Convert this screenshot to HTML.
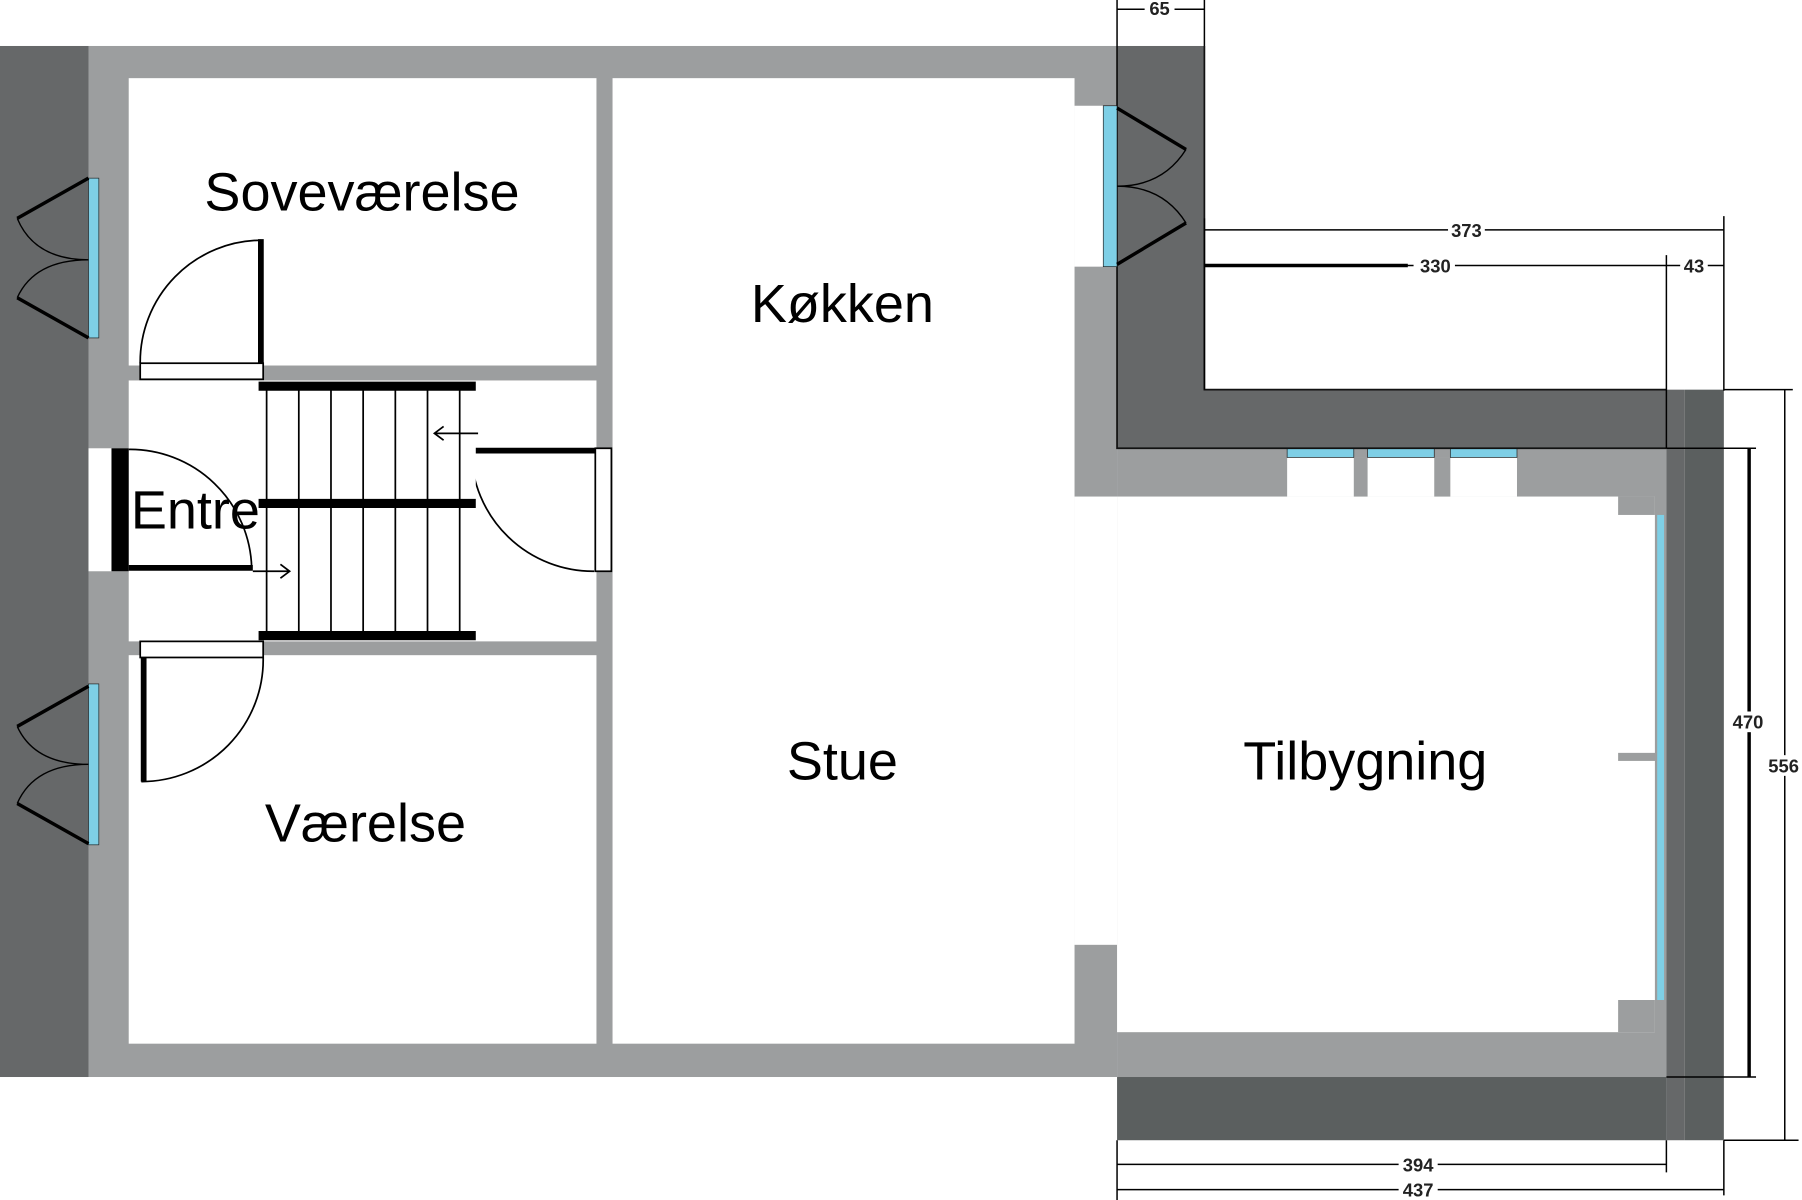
<!DOCTYPE html>
<html><head><meta charset="utf-8"><style>html,body{margin:0;padding:0;background:#fff}svg{display:block}</style></head><body>
<svg width="1802" height="1200" viewBox="0 0 1568 1044" preserveAspectRatio="none" xmlns="http://www.w3.org/2000/svg" font-family="Liberation Sans, sans-serif">
<rect width="1568" height="1044" fill="#fff"/>
<!-- main grey -->
<rect x="77" y="40" width="895" height="897" fill="#9c9e9f"/>
<rect x="0" y="40" width="77" height="897" fill="#666869"/>
<!-- rooms -->
<rect x="112" y="68" width="407" height="250" fill="#fff"/>
<rect x="112" y="331" width="407" height="227" fill="#fff"/>
<rect x="112" y="570" width="407" height="338" fill="#fff"/>
<rect x="533" y="68" width="402" height="840" fill="#fff"/>
<rect x="935" y="92" width="37" height="140" fill="#fff"/>
<rect x="935" y="432" width="37" height="390" fill="#fff"/>
<!-- extension -->
<rect x="972" y="390" width="478" height="547" fill="#9c9e9f"/>
<rect x="972" y="432" width="468" height="466" fill="#fff"/>
<rect x="1408" y="432" width="32" height="16" fill="#9c9e9f"/>
<rect x="1408" y="870" width="32" height="28" fill="#9c9e9f"/>
<rect x="1408" y="655" width="34" height="7" fill="#9c9e9f"/>
<rect x="1120" y="398" width="200" height="34" fill="#fff"/>
<rect x="1178" y="398" width="12" height="34" fill="#9c9e9f"/>
<rect x="1248" y="398" width="14" height="34" fill="#9c9e9f"/>
<rect x="1120" y="390" width="58" height="8" fill="#7ecfe6" stroke="#222" stroke-width="0.6"/>
<rect x="1190" y="390" width="58" height="8" fill="#7ecfe6" stroke="#222" stroke-width="0.6"/>
<rect x="1262" y="390" width="58" height="8" fill="#7ecfe6" stroke="#222" stroke-width="0.6"/>
<rect x="1442" y="448" width="6" height="422" fill="#7ecfe6"/>
<!-- dark walls -->
<rect x="972" y="40" width="76" height="350" fill="#666869"/>
<rect x="972" y="339" width="478" height="51" fill="#666869"/>
<rect x="1450" y="339" width="16" height="653" fill="#666869"/>
<rect x="1466" y="339" width="34" height="653" fill="#5b5f5f"/>
<rect x="972" y="937" width="478" height="55" fill="#5b5f5f"/>
<path d="M972 40 V390 H1450 M1048 40 V339 H1450" stroke="#111" stroke-width="1.5" fill="none"/>
<!-- windows -->
<rect x="960" y="92" width="12" height="140" fill="#7ecfe6" stroke="#222" stroke-width="0.6"/>
<rect x="77" y="155" width="9" height="139" fill="#7ecfe6" stroke="#222" stroke-width="0.6"/>
<rect x="77" y="595" width="9" height="140" fill="#7ecfe6" stroke="#222" stroke-width="0.6"/>
<g stroke="#000" fill="none" stroke-width="3">
<path d="M77 155 L15 190 M77 294 L15 259"/>
<path d="M972 94 L1032 130 M972 230 L1032 194"/>
<path d="M77 597 L15 632 M77 734 L15 699"/>
</g>
<g stroke="#000" fill="none" stroke-width="1.2">
<path d="M15 190 Q30 226 77 226 M15 259 Q30 226 77 226"/>
<path d="M1032 130 Q1012 162 972 162 M1032 194 Q1012 162 972 162"/>
<path d="M15 632 Q30 665 77 665 M15 699 Q30 665 77 665"/>
</g>
<!-- doors -->
<rect x="122" y="316" width="107" height="14" fill="#fff" stroke="#000" stroke-width="1.5"/>
<line x1="227" y1="208" x2="227" y2="316" stroke="#000" stroke-width="5"/>
<path d="M227 209 A106 106 0 0 0 122 316" stroke="#000" fill="none" stroke-width="1.5"/>
<rect x="77" y="390" width="35" height="107" fill="#fff"/>
<rect x="97" y="390" width="15" height="107" fill="#000"/>
<line x1="112" y1="494" x2="220" y2="494" stroke="#000" stroke-width="5"/>
<path d="M112 391 A106 106 0 0 1 219 494" stroke="#000" fill="none" stroke-width="1.5"/>
<rect x="518" y="390" width="14" height="107" fill="#fff" stroke="#000" stroke-width="1.5"/>
<line x1="410" y1="392" x2="518" y2="392" stroke="#000" stroke-width="5"/>
<path d="M410 393 A106 106 0 0 0 517 497" stroke="#000" fill="none" stroke-width="1.5"/>
<rect x="122" y="558" width="107" height="14" fill="#fff" stroke="#000" stroke-width="1.5"/>
<line x1="125" y1="572" x2="125" y2="680" stroke="#000" stroke-width="5"/>
<path d="M229 572 A106 106 0 0 1 123 680" stroke="#000" fill="none" stroke-width="1.5"/>
<!-- stair -->
<rect x="230" y="333" width="184" height="223" fill="#fff"/>
<g stroke="#000" stroke-width="1.5">
<line x1="232" y1="336" x2="232" y2="553"/><line x1="260" y1="336" x2="260" y2="553"/><line x1="288" y1="336" x2="288" y2="553"/><line x1="316" y1="336" x2="316" y2="553"/><line x1="344" y1="336" x2="344" y2="553"/><line x1="372" y1="336" x2="372" y2="553"/><line x1="400" y1="336" x2="400" y2="553"/>
</g>
<g stroke="#000" stroke-width="8">
<line x1="225" y1="336" x2="414" y2="336"/><line x1="225" y1="438" x2="414" y2="438"/><line x1="225" y1="553" x2="414" y2="553"/>
</g>
<g stroke="#000" stroke-width="1.5" fill="none">
<path d="M416 377 H378 M386 371 L378 377 L386 383"/>
<path d="M220 497 H252 M244 491 L252 497 L244 503"/>
</g>
<!-- labels -->
<g font-size="47" fill="#000" text-anchor="middle">
<text x="315" y="183">Soveværelse</text>
<text x="733" y="280">Køkken</text>
<text x="170" y="460">Entre</text>
<text x="733" y="678">Stue</text>
<text x="1188" y="678">Tilbygning</text>
<text x="318" y="732">Værelse</text>
</g>
<!-- dimensions -->
<g stroke="#000" stroke-width="1.3" fill="none">
<path d="M972 0 V40 M1048 0 V40 M972 8 H1048"/>
<path d="M1048 190 V339 M1500 188 V340 M1048 200 H1500"/>
<path d="M1048 231 H1450 M1450 222 V390 M1450 231 H1500"/>
<path d="M1500 339 H1560 M1500 992 H1565 M1553 339 V992"/>
<path d="M1450 390 H1528 M1450 937 H1528"/>
<path d="M972 992 V1044 M1450 992 V1020 M1500 992 V1040 M972 1013 H1450 M972 1035 H1500"/>
</g>
<line x1="1048" y1="231" x2="1225" y2="231" stroke="#000" stroke-width="3"/>
<line x1="1522" y1="390" x2="1522" y2="937" stroke="#000" stroke-width="3"/>
<g font-size="16" font-weight="bold" fill="#222" text-anchor="middle">
<rect x="996" y="0" width="26" height="14" fill="#fff"/><text x="1009" y="13">65</text>
<rect x="1260" y="192" width="32" height="16" fill="#fff"/><text x="1276" y="206">373</text>
<rect x="1230" y="222" width="36" height="16" fill="#fff"/><text x="1249" y="237">330</text>
<rect x="1462" y="222" width="24" height="16" fill="#fff"/><text x="1474" y="237">43</text>
<rect x="1504" y="619" width="34" height="18" fill="#fff"/><text x="1521" y="634">470</text>
<rect x="1536" y="657" width="32" height="18" fill="#fff"/><text x="1552" y="672">556</text>
<rect x="1217" y="1005" width="34" height="16" fill="#fff"/><text x="1234" y="1019">394</text>
<rect x="1217" y="1027" width="34" height="16" fill="#fff"/><text x="1234" y="1041">437</text>
</g>
</svg>
</body></html>
